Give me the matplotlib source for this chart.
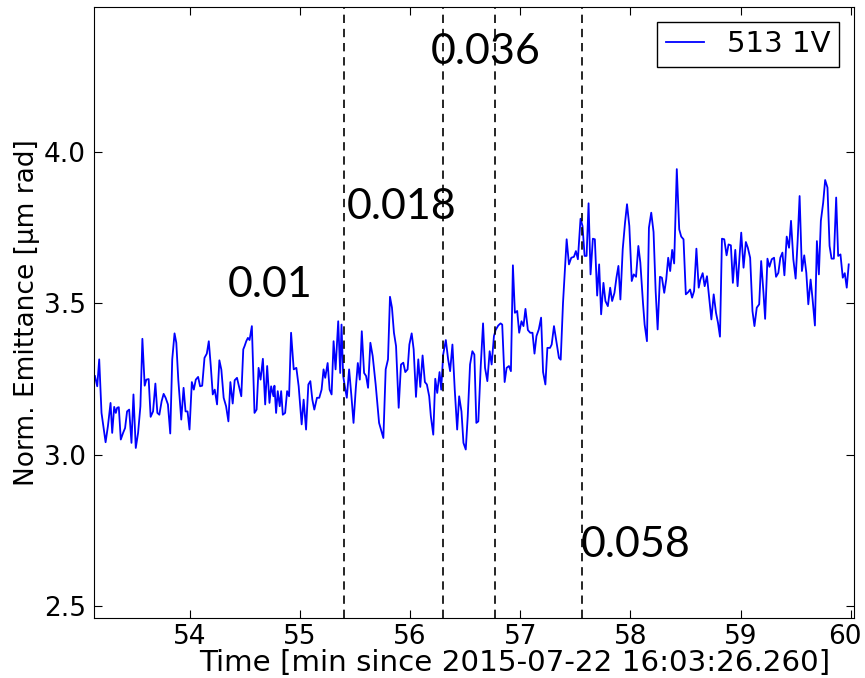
import matplotlib
matplotlib.use("Agg")
import matplotlib.pyplot as plt
from matplotlib.transforms import ScaledTranslation

# time [min] and normalised emittance [um rad]
time = [
    53.138, 53.159, 53.177, 53.198, 53.235, 53.256, 53.280, 53.295, 53.313, 53.328,
    53.340, 53.355, 53.373, 53.394, 53.412, 53.430, 53.449, 53.470, 53.488, 53.509,
    53.530, 53.551, 53.569, 53.590, 53.605, 53.626, 53.644, 53.666, 53.687, 53.705,
    53.723, 53.744, 53.762, 53.780, 53.801, 53.822, 53.840, 53.861, 53.877, 53.895,
    53.922, 53.943, 53.961, 53.979, 53.997, 54.018, 54.036, 54.054, 54.075, 54.093,
    54.112, 54.133, 54.154, 54.172, 54.190, 54.208, 54.226, 54.247, 54.268, 54.286,
    54.307, 54.329, 54.350, 54.368, 54.389, 54.407, 54.428, 54.449, 54.467, 54.485,
    54.497, 54.512, 54.527, 54.542, 54.563, 54.587, 54.606, 54.624, 54.642, 54.663,
    54.684, 54.702, 54.723, 54.738, 54.759, 54.768, 54.783, 54.798, 54.816, 54.829,
    54.844, 54.865, 54.883, 54.901, 54.919, 54.943, 54.967, 54.988, 55.015, 55.033,
    55.055, 55.076, 55.094, 55.112, 55.130, 55.154, 55.175, 55.196, 55.214, 55.229,
    55.251, 55.269, 55.287, 55.305, 55.323, 55.347, 55.365, 55.377, 55.392, 55.407,
    55.425, 55.446, 55.467, 55.486, 55.507, 55.525, 55.543, 55.561, 55.582, 55.600,
    55.618, 55.639, 55.660, 55.687, 55.718, 55.757, 55.778, 55.799, 55.817, 55.835,
    55.853, 55.872, 55.896, 55.917, 55.938, 55.956, 55.977, 55.993, 56.014, 56.032,
    56.053, 56.074, 56.092, 56.113, 56.134, 56.152, 56.173, 56.188, 56.210, 56.228,
    56.246, 56.267, 56.282, 56.300, 56.324, 56.345, 56.363, 56.384, 56.405, 56.427,
    56.445, 56.466, 56.484, 56.505, 56.523, 56.544, 56.565, 56.583, 56.601, 56.619,
    56.641, 56.662, 56.680, 56.701, 56.722, 56.740, 56.761, 56.776, 56.800, 56.821,
    56.836, 56.858, 56.876, 56.897, 56.915, 56.933, 56.951, 56.972, 56.990, 57.011,
    57.029, 57.047, 57.069, 57.090, 57.111, 57.129, 57.147, 57.168, 57.189, 57.207,
    57.228, 57.246, 57.270, 57.285, 57.306, 57.327, 57.351, 57.367, 57.388, 57.421,
    57.442, 57.463, 57.487, 57.505, 57.523, 57.547, 57.565, 57.584, 57.602, 57.620,
    57.638, 57.659, 57.677, 57.698, 57.716, 57.734, 57.755, 57.773, 57.795, 57.816,
    57.834, 57.855, 57.873, 57.891, 57.909, 57.930, 57.951, 57.969, 57.990, 58.012,
    58.030, 58.051, 58.072, 58.090, 58.114, 58.129, 58.150, 58.168, 58.189, 58.210,
    58.229, 58.247, 58.268, 58.286, 58.307, 58.325, 58.343, 58.361, 58.379, 58.397,
    58.421, 58.443, 58.461, 58.482, 58.503, 58.524, 58.542, 58.560, 58.578, 58.599,
    58.620, 58.635, 58.656, 58.674, 58.695, 58.716, 58.735, 58.756, 58.777, 58.795,
    58.813, 58.831, 58.852, 58.873, 58.891, 58.912, 58.930, 58.952, 58.973, 58.991,
    59.006, 59.027, 59.048, 59.066, 59.087, 59.108, 59.126, 59.147, 59.169, 59.187,
    59.208, 59.223, 59.244, 59.262, 59.283, 59.304, 59.322, 59.343, 59.361, 59.380,
    59.398, 59.419, 59.440, 59.458, 59.479, 59.500, 59.518, 59.536, 59.557, 59.578,
    59.597, 59.615, 59.636, 59.654, 59.675, 59.693, 59.711, 59.729, 59.750, 59.768,
    59.789, 59.808, 59.826, 59.847, 59.868, 59.886, 59.907, 59.928, 59.946, 59.964,
    59.982,
]
emittance = [
    3.260, 3.226, 3.315, 3.138, 3.041, 3.094, 3.171, 3.072, 3.158, 3.138,
    3.155, 3.157, 3.050, 3.072, 3.088, 3.143, 3.149, 3.039, 3.199, 3.022,
    3.072, 3.160, 3.383, 3.228, 3.248, 3.250, 3.125, 3.143, 3.235, 3.138,
    3.132, 3.177, 3.201, 3.188, 3.166, 3.070, 3.315, 3.401, 3.370, 3.248,
    3.116, 3.221, 3.143, 3.143, 3.083, 3.240, 3.215, 3.248, 3.257, 3.226,
    3.228, 3.320, 3.334, 3.375, 3.293, 3.199, 3.215, 3.166, 3.312, 3.281,
    3.188, 3.160, 3.110, 3.240, 3.169, 3.246, 3.254, 3.221, 3.193, 3.348,
    3.359, 3.375, 3.386, 3.379, 3.425, 3.138, 3.149, 3.287, 3.248, 3.317,
    3.166, 3.293, 3.171, 3.226, 3.193, 3.228, 3.138, 3.210, 3.160, 3.210,
    3.132, 3.138, 3.210, 3.193, 3.403, 3.282, 3.287, 3.226, 3.100, 3.182,
    3.083, 3.232, 3.243, 3.182, 3.149, 3.188, 3.188, 3.215, 3.282, 3.254,
    3.303, 3.215, 3.199, 3.375, 3.282, 3.441, 3.270, 3.430, 3.260, 3.226,
    3.188, 3.282, 3.193, 3.105, 3.221, 3.303, 3.248, 3.408, 3.270, 3.260,
    3.221, 3.370, 3.326, 3.232, 3.105, 3.055, 3.282, 3.315, 3.522, 3.486,
    3.403, 3.359, 3.155, 3.298, 3.304, 3.273, 3.282, 3.364, 3.401, 3.348,
    3.191, 3.315, 3.224, 3.328, 3.240, 3.232, 3.193, 3.127, 3.066, 3.251,
    3.204, 3.273, 3.215, 3.331, 3.379, 3.315, 3.276, 3.364, 3.215, 3.083,
    3.193, 3.143, 3.039, 3.017, 3.127, 3.298, 3.342, 3.331, 3.105, 3.110,
    3.293, 3.434, 3.287, 3.243, 3.342, 3.298, 3.392, 3.412, 3.427, 3.434,
    3.430, 3.240, 3.287, 3.293, 3.276, 3.626, 3.469, 3.475, 3.403, 3.441,
    3.425, 3.482, 3.412, 3.403, 3.403, 3.334, 3.392, 3.414, 3.453, 3.273,
    3.232, 3.353, 3.353, 3.364, 3.425, 3.375, 3.320, 3.314, 3.502, 3.712,
    3.629, 3.651, 3.654, 3.673, 3.646, 3.780, 3.756, 3.657, 3.657, 3.831,
    3.596, 3.714, 3.712, 3.526, 3.629, 3.464, 3.568, 3.508, 3.491, 3.552,
    3.508, 3.535, 3.585, 3.624, 3.513, 3.679, 3.767, 3.828, 3.756, 3.574,
    3.596, 3.588, 3.690, 3.635, 3.502, 3.430, 3.375, 3.750, 3.800, 3.736,
    3.541, 3.414, 3.588, 3.585, 3.535, 3.579, 3.651, 3.607, 3.677, 3.632,
    3.944, 3.745, 3.721, 3.712, 3.530, 3.537, 3.546, 3.519, 3.541, 3.681,
    3.552, 3.579, 3.600, 3.557, 3.590, 3.513, 3.447, 3.530, 3.469, 3.436,
    3.390, 3.714, 3.712, 3.659, 3.695, 3.692, 3.568, 3.677, 3.557, 3.657,
    3.734, 3.618, 3.703, 3.684, 3.651, 3.475, 3.425, 3.486, 3.497, 3.640,
    3.535, 3.449, 3.648, 3.621, 3.646, 3.651, 3.588, 3.601, 3.651, 3.668,
    3.593, 3.721, 3.684, 3.773, 3.646, 3.582, 3.706, 3.855, 3.607, 3.659,
    3.601, 3.497, 3.579, 3.513, 3.427, 3.706, 3.596, 3.773, 3.833, 3.908,
    3.883, 3.690, 3.648, 3.648, 3.850, 3.657, 3.662, 3.585, 3.600, 3.552,
    3.629,
]
markers = [55.40, 56.30, 56.77, 57.56]
note_text = ["0.01", "0.018", "0.036", "0.058"]
note_x = [54.34, 55.42, 56.19, 57.55]
note_y = [3.56, 3.82, 4.33, 2.70]
x_ticks = [54, 55, 56, 57, 58, 59, 60]
y_ticks = [2.5, 3.0, 3.5, 4.0]

fig = plt.figure(figsize=(8.65, 6.78), dpi=100)
ax = fig.add_axes([0.1087, 0.0885, 0.8786, 0.9012])

ax.plot(time, emittance, color="#0000ff", lw=1.3, label="513 1V")
for m in markers:
    ax.axvline(m, color="k", ls="--", lw=1.2, dashes=(5, 3.5))
for t, x, y in zip(note_text, note_x, note_y):
    ax.text(x, y, t, fontsize=31, family="Lato", ha="left", va="center")

ax.set_xlim(53.13, 60.03)
ax.set_ylim(2.46, 4.48)
ax.set_xticks(x_ticks)
ax.set_yticks(y_ticks)
ax.tick_params(direction="in", top=True, right=True, labelsize=19, length=6)
ax.tick_params(axis="x", pad=4)
ax.tick_params(axis="y", pad=6)
# the last label sits at the figure edge, nudge it inward a little
last = ax.get_xticklabels()[-1]
last.set_transform(last.get_transform() + ScaledTranslation(-6 / 100, 0, fig.dpi_scale_trans))

ax.set_xlabel("Time [min since 2015-07-22 16:03:26.260]", fontsize=21.2, labelpad=0)
ax.xaxis.set_label_coords(0.553, -0.05)
ax.set_ylabel("Norm. Emittance [µm rad]", fontsize=19, labelpad=3)
leg = ax.legend(loc="upper right", fontsize=21, fancybox=False, framealpha=1,
                handlelength=1.3, handletextpad=0.8, borderaxespad=0.5,
                borderpad=0.3)
leg.get_frame().set_edgecolor("k")

fig.savefig("out.png", dpi=100)
